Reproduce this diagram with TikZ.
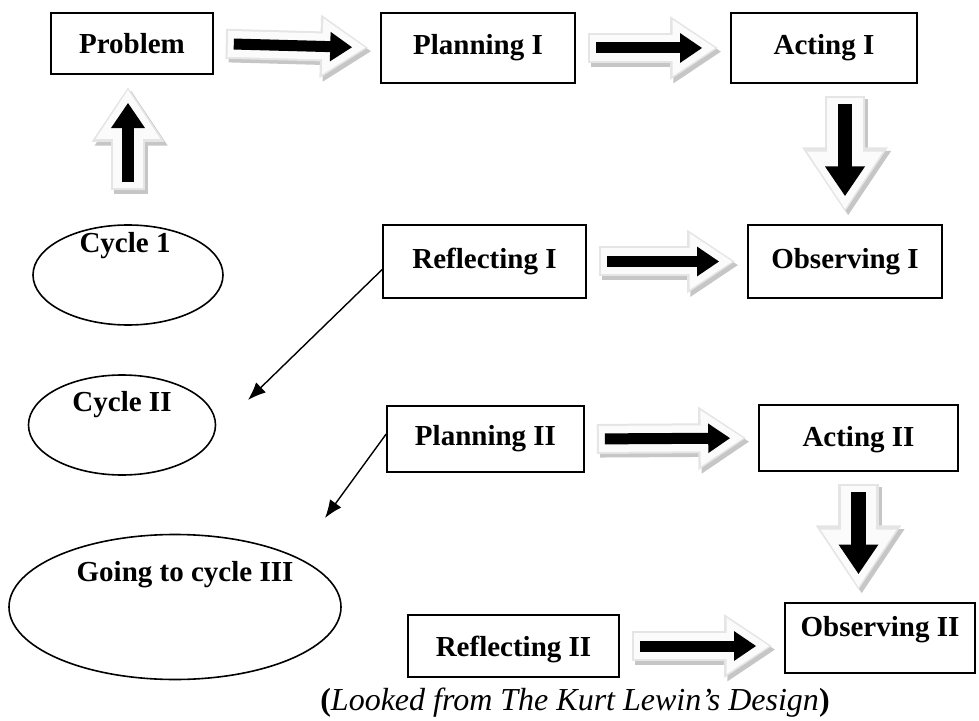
\documentclass[tikz,border=0pt]{standalone}
\usepackage{fontspec}
\setmainfont{Liberation Serif}
\usetikzlibrary{arrows.meta,positioning,shapes.geometric}

\begin{document}
\begin{tikzpicture}[x=0.5pt,y=-0.5pt]
	\tikzstyle{box}=[rectangle, draw=black, line width=0.8pt, font=\fontsize{14.5}{17}\selectfont\bfseries]
	\tikzstyle{oval}=[ellipse, draw=black, line width=0.8pt]
	\tikzstyle{word}=[font=\fontsize{14.5}{17}\selectfont\bfseries]
	\tikzstyle{connect}=[-{Latex[length=9pt,width=7pt]}, line width=0.7pt]
	\tikzstyle{haloshade}=[draw=gray!45]
	\tikzstyle{haloedge}=[draw=gray!20]
	\tikzstyle{halofill}=[draw=gray!3]
	\tikzstyle{fatarrow}=[draw=black]
	\useasboundingbox (0,0) rectangle (979,721);

	  % first cycle
	  \node[box, minimum width=81pt, minimum height=30.5pt] (prob) at (132,43.5) {Problem};
	  \node[box, minimum width=97pt, minimum height=35pt] (plan1) at (478,48) {Planning I};
	  \node[box, minimum width=93pt, minimum height=35pt] (act1) at (824,48) {Acting I};
	  \node[box, minimum width=97pt, minimum height=36.5pt] (obs1) at (845,261.5) {Observing I};
	  \node[box, minimum width=101.5pt, minimum height=36.5pt] (refl1) at (484.5,261.5) {Reflecting I};
	  \node[oval, minimum width=95pt, minimum height=50pt] (cyc1) at (128,275) {};
	  \node[word] (cyc1txt) at (125,246) {Cycle 1};

	  % second cycle
	  \node[oval, minimum width=93.5pt, minimum height=50pt] (cyc2) at (122,425) {};
	  \node[word] (cyc2txt) at (122,405) {Cycle II};
	  \node[box, minimum width=98.5pt, minimum height=33pt] (plan2) at (485.5,439) {Planning II};
	  \node[box, minimum width=99.5pt, minimum height=33pt, text height=12pt] (act2) at (858.5,438) {Acting II};
	  \node[box, minimum width=95pt, minimum height=35pt, text depth=12pt] (obs2) at (880,638) {Observing II};
	  \node[box, minimum width=105.5pt, minimum height=31pt, text height=14pt] (refl2) at (513.5,646) {Reflecting II};
	  \node[oval, minimum width=166pt, minimum height=72.5pt] (cyc3) at (175,607) {};
	  \node[word] (cyc3txt) at (185,575) {Going to cycle III};

	  \node[font=\fontsize{16}{19}\selectfont] (source) at (575,703) {\textbf{(}\textit{Looked from The Kurt Lewin’s Design}\textbf{)}};

	  % block arrows: start, end, extra gap, size
	  \foreach \a/\b/\s/\k in {prob.east/plan1.west/0/1, plan1.east/act1.west/0/1,
	      refl1.east/obs1.west/0/1, plan2.east/act2.west/0/1,
	      refl2.east/{refl2.east -| obs2.west}/0/1,
	      {obs1.north |- act1.south}/obs1.north/0/1.35,
	      act2.south/{act2.south |- obs2.north}/0/1.35,
	      cyc1.north/{cyc1.north |- prob.south}/11/1.15} {
	    \draw[haloshade, line width=15pt*\k, -{Triangle[length=24pt,width=30pt,scale=\k]},
	      shorten <=6pt+\s pt, shorten >=6pt, transform canvas={shift={(1.6pt,-1.8pt)}}] (\a) -- (\b);
	    \draw[haloedge, line width=15pt*\k, -{Triangle[length=24pt,width=30pt,scale=\k]},
	      shorten <=6pt+\s pt, shorten >=6pt] (\a) -- (\b);
	    \draw[halofill, line width=13pt*\k, -{Triangle[length=21.5pt,width=26.5pt,scale=\k]},
	      shorten <=7pt+\s pt, shorten >=7.3pt] (\a) -- (\b);
	    \draw[fatarrow, line width=5.5pt*\k, -{Triangle[length=11pt,width=14pt,scale=\k]},
	      shorten <=10pt+\s pt, shorten >=14pt] (\a) -- (\b);
	  }

	  % thin arrows to the next cycle
	  \coordinate (c2tip) at (248,400);
	  \coordinate (c3tip) at (325,518);
	  \draw[connect] (refl1.west) ++(0,8) -- (c2tip);
	  \draw[connect] (plan2.west) ++(0,-5) -- (c3tip);

\end{tikzpicture}
\end{document}
